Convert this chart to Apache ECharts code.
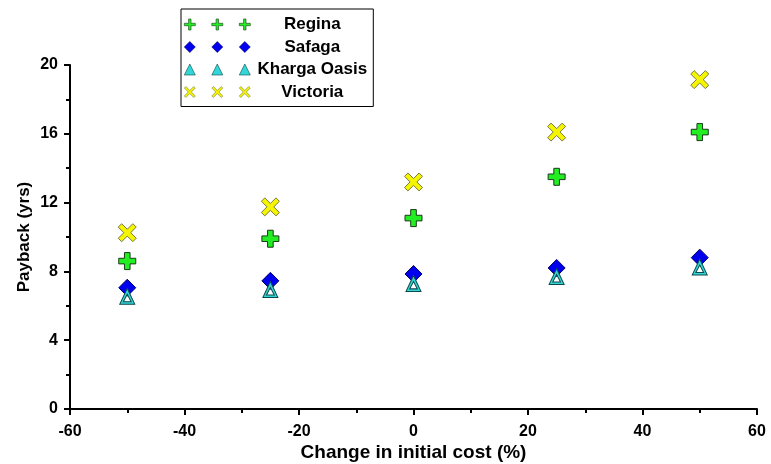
<!DOCTYPE html>
<html>
<head>
<meta charset="utf-8">
<script src="https://cdn.jsdelivr.net/npm/echarts@6/dist/echarts.min.js"></script>
<style>html,body{margin:0;padding:0;background:#fff}#c{width:771px;height:464px}</style>
</head>
<body>
<div id="c"></div>
<script>
const costChange = [-50, -25, 0, 25, 50];
const regina   = [8.6, 9.9, 11.1, 13.5, 16.1];
const safaga   = [7.05, 7.45, 7.85, 8.2, 8.8];
const kharga   = [6.55, 6.95, 7.3, 7.7, 8.25];
const victoria = [10.25, 11.75, 13.2, 16.1, 19.15];
const seriesNames = ['Regina', 'Safaga', 'Kharga Oasis', 'Victoria'];

const FONT = '"Liberation Sans", Arial, sans-serif';

// shapes in unit box [-1,1]
const shapes = {
  plus: [[[-0.33,-1],[0.33,-1],[0.33,-0.33],[1,-0.33],[1,0.33],[0.33,0.33],[0.33,1],[-0.33,1],[-0.33,0.33],[-1,0.33],[-1,-0.33],[-0.33,-0.33]]],
  plusThin: [[[-0.22,-1],[0.22,-1],[0.22,-0.22],[1,-0.22],[1,0.22],[0.22,0.22],[0.22,1],[-0.22,1],[-0.22,0.22],[-1,0.22],[-1,-0.22],[-0.22,-0.22]]],
  cross: [[[-1,-0.62],[-0.62,-1],[0,-0.38],[0.62,-1],[1,-0.62],[0.38,0],[1,0.62],[0.62,1],[0,0.38],[-0.62,1],[-1,0.62],[-0.38,0]]],
  crossThin: [[[-1,-0.72],[-0.72,-1],[0,-0.28],[0.72,-1],[1,-0.72],[0.28,0],[1,0.72],[0.72,1],[0,0.28],[-0.72,1],[-1,0.72],[-0.28,0]]],
  diamond: [[[0,-1],[1,0],[0,1],[-1,0]]],
  tri: [[[0,-1],[1,1],[-1,1]]],
  triHole: [[[0,-1],[1,1],[-1,1]], [[0,-0.25],[-0.52,0.68],[0.52,0.68]]]
};
function polyPath(polys, cx, cy, hw, hh) {
  let s = '';
  polys.forEach(p => {
    p.forEach((pt, i) => {
      s += (i === 0 ? 'M' : 'L') + (cx + pt[0]*hw).toFixed(2) + ',' + (cy + pt[1]*hh).toFixed(2);
    });
    s += 'Z';
  });
  return s;
}
function symPath(name) { return 'path://' + polyPath(shapes[name], 0, 0, 10, 10); }
function legendIcon(name) {
  let s = '';
  [5.5, 33, 60.5].forEach(cx => { s += polyPath(shapes[name], cx, 5.5, 5.5, 5.5); });
  return 'path://' + s;
}

const chart = echarts.init(document.getElementById('c'), null, {renderer: 'canvas'});
const pairs = vals => costChange.map((x, i) => [x, vals[i]]);

chart.setOption({
  animation: false,
  backgroundColor: '#fff',
  grid: {left: 70, right: 14, top: 65, bottom: 55, containLabel: false, outerBoundsMode: 'none'},
  legend: {
    left: 181, top: 9, orient: 'vertical',
    borderColor: '#000', borderWidth: 1,
    padding: [7, 4, 6, 3],
    itemWidth: 66, itemHeight: 11, itemGap: 5.5,
    itemStyle: {borderWidth: 0.6},
    data: [
      {name: 'Regina', icon: legendIcon('plusThin')},
      {name: 'Safaga', icon: legendIcon('diamond')},
      {name: 'Kharga Oasis', icon: legendIcon('tri')},
      {name: 'Victoria', icon: legendIcon('crossThin')}
    ],
    formatter: n => '{t|' + n + '}',
    textStyle: {
      fontFamily: FONT, fontWeight: 'bold', fontSize: 17, color: '#000',
      rich: {t: {width: 114, align: 'center', fontFamily: FONT, fontWeight: 'bold', fontSize: 17, color: '#000', lineHeight: 17}}
    }
  },
  xAxis: {
    type: 'value', min: -60, max: 60, interval: 20,
    name: 'Change in initial cost (%)', nameLocation: 'middle', nameGap: 34, nameMoveOverlap: false,
    nameTextStyle: {fontFamily: FONT, fontWeight: 'bold', fontSize: 19, color: '#000'},
    axisLine: {show: true, onZero: false, lineStyle: {color: '#000', width: 2}},
    axisTick: {show: true, length: 6, lineStyle: {color: '#000', width: 2}},
    minorTick: {show: true, splitNumber: 2, length: 4, lineStyle: {color: '#000', width: 2}},
    axisLabel: {fontFamily: FONT, fontWeight: 'bold', fontSize: 16, color: '#000', margin: 15},
    splitLine: {show: false}
  },
  yAxis: {
    type: 'value', min: 0, max: 20, interval: 4,
    name: 'Payback (yrs)', nameLocation: 'middle', nameGap: 37, nameMoveOverlap: false,
    nameTextStyle: {fontFamily: FONT, fontWeight: 'bold', fontSize: 17, color: '#000'},
    axisLine: {show: true, onZero: false, lineStyle: {color: '#000', width: 2}},
    axisTick: {show: true, length: 6, lineStyle: {color: '#000', width: 2}},
    minorTick: {show: true, splitNumber: 2, length: 4, lineStyle: {color: '#000', width: 2}},
    axisLabel: {fontFamily: FONT, fontWeight: 'bold', fontSize: 16, color: '#000', margin: 12},
    splitLine: {show: false}
  },
  series: [
    {name: 'Regina', type: 'scatter', data: pairs(regina), symbol: symPath('plus'), symbolSize: 17,
     itemStyle: {color: '#22ee22', borderColor: '#1a3a1a', borderWidth: 1, opacity: 1}},
    {name: 'Safaga', type: 'scatter', data: pairs(safaga), symbol: symPath('diamond'), symbolSize: 17,
     itemStyle: {color: '#0000ee', borderColor: '#000066', borderWidth: 1, opacity: 1}},
    {name: 'Kharga Oasis', type: 'scatter', data: pairs(kharga), symbol: symPath('triHole'), symbolSize: [15, 16],
     itemStyle: {color: '#33d6d6', borderColor: '#0b4a4a', borderWidth: 1, opacity: 1}},
    {name: 'Victoria', type: 'scatter', data: pairs(victoria), symbol: symPath('cross'), symbolSize: 18,
     itemStyle: {color: '#f5f500', borderColor: '#7a7a40', borderWidth: 1, opacity: 1}}
  ]
});
</script>
</body>
</html>
